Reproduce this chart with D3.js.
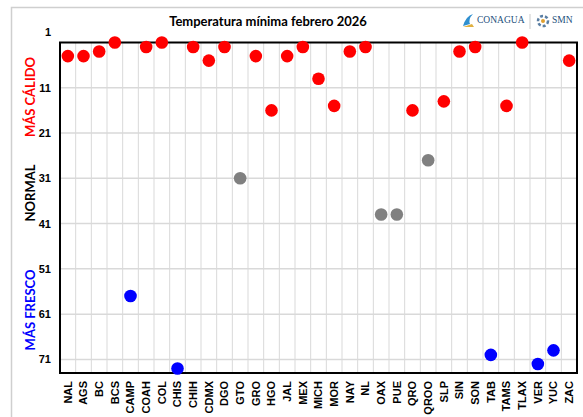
<!DOCTYPE html>
<html><head><meta charset="utf-8">
<script src="https://cdn.jsdelivr.net/npm/d3@7"></script>
<style>body{margin:0;background:#fff}svg{display:block}</style>
</head><body><svg id="c" width="583" height="417"></svg>
<script>
const states = ["NAL","AGS","BC","BCS","CAMP","COAH","COL","CHIS","CHIH","CDMX","DGO","GTO","GRO","HGO","JAL","MEX","MICH","MOR","NAY","NL","OAX","PUE","QRO","QROO","SLP","SIN","SON","TAB","TAMS","TLAX","VER","YUC","ZAC"];
const ranks = [4,4,3,1,57,2,1,73,2,5,2,31,4,16,4,2,9,15,3,2,39,39,16,27,14,3,2,70,15,1,72,69,5];
const categories = ["MÁS CÁLIDO","NORMAL","MÁS FRESCO"];
const catColors = ["#ff0000","#808080","#0000ff"];
const yTicks = [1,11,21,31,41,51,61,71];
const title = "Temperatura mínima febrero 2026";

function cat(v){ return v <= 21 ? 0 : (v <= 52 ? 1 : 2); }

const svg = d3.select("#c");
const m = {l:60, t:42.5, r:577, b:373};
// outer frame
svg.append("rect").attr("x",11.5).attr("y",7.5).attr("width",600).attr("height",430)
  .attr("fill","none").attr("stroke","#cfcfcf").attr("stroke-width",1.5);

const x = d3.scaleBand().domain(states).range([m.l,m.r]);
const y = d3.scaleLinear().domain([1,74]).range([m.t,m.b]);

// grid
svg.append("g").selectAll("line").data(states.slice(1)).join("line")
  .attr("x1",d=>x(d)).attr("x2",d=>x(d)).attr("y1",m.t).attr("y2",m.b)
  .attr("stroke","#d9d9d9").attr("stroke-width",1);
svg.append("g").selectAll("line").data(yTicks.slice(1)).join("line")
  .attr("x1",m.l).attr("x2",m.r).attr("y1",d=>y(d)).attr("y2",d=>y(d))
  .attr("stroke","#d9d9d9").attr("stroke-width",1.5);

// frame of plot
svg.append("rect").attr("x",m.l).attr("y",m.t).attr("width",m.r-m.l).attr("height",m.b-m.t)
  .attr("fill","none").attr("stroke","#000").attr("stroke-width",2);

// y axis labels
const ya = svg.append("g").attr("transform",`translate(${m.l},0)`)
  .call(d3.axisLeft(y).tickValues(yTicks).tickSize(0).tickPadding(9));
ya.select(".domain").remove();
ya.selectAll("text").attr("font-family","Liberation Sans, Arial, sans-serif").attr("font-size",11).attr("font-weight","bold").attr("fill","#000");
ya.selectAll(".tick").filter(d=>d===1).attr("transform",`translate(0,${y(1)-10})`);

// x axis
const xa = svg.append("g").attr("transform",`translate(0,${m.b})`)
  .call(d3.axisBottom(x).tickSize(0).tickPadding(0));
xa.select(".domain").remove();
xa.selectAll("text").attr("font-family","Liberation Sans, Arial, sans-serif").attr("font-size",11).attr("font-weight","bold").attr("fill","#000")
  .attr("transform","rotate(-90)").attr("text-anchor","end").attr("dy","0.35em").attr("x",-8).attr("y",0);

// side labels
const sideY = [97, 193, 310];
categories.forEach((c,i)=>{
  svg.append("text").attr("transform",`translate(35,${sideY[i]}) rotate(-90)`)
    .attr("text-anchor","middle").attr("font-family","Lato, Open Sans, sans-serif").attr("font-weight","bold")
    .attr("font-size",13).attr("fill", i===1 ? "#000" : catColors[i]).text(c);
});

// points
svg.append("g").selectAll("circle").data(states.map((s,i)=>({s,v:ranks[i]}))).join("circle")
  .attr("cx",d=>x(d.s)+x.bandwidth()/2).attr("cy",d=>y(d.v)).attr("r",6.3)
  .attr("fill",d=>catColors[cat(d.v)]);

// title
svg.append("text").attr("x",268).attr("y",26).attr("text-anchor","middle")
  .attr("font-family","Lato, Open Sans, sans-serif").attr("font-weight","bold").attr("font-size",13).attr("fill","#000").text(title);

// logos (approximate)
const lg = svg.append("g");
lg.append("path").attr("d","M463,26 Q466,16 473,14 Q468,19 470,24 Z").attr("fill","#2f8fcf");
lg.append("path").attr("d","M463,27 L474,27 L472,24 Z").attr("fill","#e0b040");
lg.append("text").attr("x",477).attr("y",23).attr("font-family","Liberation Serif, serif").attr("font-size",9.5).attr("fill","#1d4f7c").text("CONAGUA");
lg.append("line").attr("x1",530).attr("x2",530).attr("y1",14).attr("y2",29).attr("stroke","#ccc");
lg.append("circle").attr("cx",543).attr("cy",21).attr("r",5).attr("fill","none").attr("stroke","#5b7fa3").attr("stroke-width",2.5).attr("stroke-dasharray","3,2");
lg.append("circle").attr("cx",543).attr("cy",21).attr("r",2).attr("fill","#e0a030");
lg.append("text").attr("x",552).attr("y",23).attr("font-family","Liberation Serif, serif").attr("font-size",9.5).attr("fill","#1d4f7c").text("SMN");
</script></body></html>
